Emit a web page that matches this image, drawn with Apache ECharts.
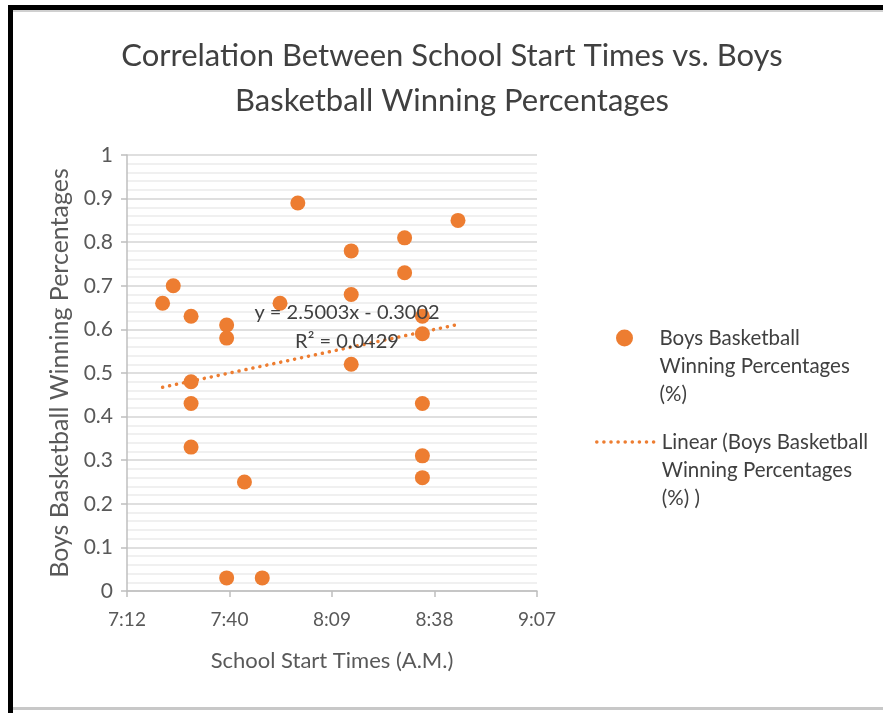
<!DOCTYPE html>
<html>
<head>
<meta charset="utf-8">
<script src="https://cdn.jsdelivr.net/npm/echarts@6/dist/echarts.min.js"></script>
<style>
    html, body { margin: 0; padding: 0; background: #fff; }
    #chart { width: 883px; height: 713px; }
</style>
</head>
<body>
<div id="chart"></div>
<script>
// school start times (A.M.) and winning percentages
var startTimes = ['7:22','7:25','7:30','7:30','7:30','7:30','7:40','7:40','7:40','7:45','7:50','7:55',
                  '8:00','8:15','8:15','8:15','8:30','8:30','8:35','8:35','8:35','8:35','8:35','8:45'];
var winPct = [0.66,0.70,0.63,0.48,0.43,0.33,0.61,0.58,0.03,0.25,0.03,0.66,
              0.89,0.78,0.68,0.52,0.81,0.73,0.63,0.59,0.43,0.31,0.26,0.85];
var xTickLabels = ['7:12','7:40','8:09','8:38','9:07'];
// excel trendline shown on the chart
var slope = 2.5003;
var intercept = -0.3002;
var rSquared = 0.0429;

var seriesName = 'Boys Basketball Winning Percentages (%)';
var trendName = 'Linear (Boys Basketball Winning Percentages (%) )';
// two empty lines first so the icon sits on the first text line
var legendLines = {};
legendLines[seriesName] = '\n\nBoys Basketball\nWinning Percentages\n(%)';
legendLines[trendName] = '\n\nLinear (Boys Basketball\nWinning Percentages\n(%) )';

var orange = '#ED7D31';
var textGray = '#595959';
var font = 'Lato';

// times are kept as fractions of a day, like excel does
function toDay(t){
    var p = t.split(':');
    return (parseInt(p[0]) * 60 + parseInt(p[1])) / 1440;
}
var points = startTimes.map(function(t, i){ return [toDay(t), winPct[i]]; });
var xs = points.map(function(p){ return p[0]; });
var xLo = Math.min.apply(null, xs), xHi = Math.max.apply(null, xs);
var trend = [[xLo, slope * xLo + intercept], [xHi, slope * xHi + intercept]];

var dotted = { color: orange, width: 3.5, type: [0.1, 7], cap: 'round' };
var legendText = { fontFamily: font, fontSize: 20.5, color: '#404040', lineHeight: 28 };

var option = {
    animation: false,
    backgroundColor: '#fff',
    title: {
        text: 'Correlation Between School Start Times vs. Boys\nBasketball Winning Percentages',
        left: 452,
        top: 33,
        padding: 0,
        textAlign: 'center',
        textStyle: { fontFamily: font, fontSize: 31, fontWeight: 'normal', color: '#404040', lineHeight: 45 }
    },
    legend: [
        {
            data: [seriesName], orient: 'vertical', left: 616, top: 268, padding: 0,
            itemWidth: 60, itemHeight: 17, textStyle: legendText,
            formatter: function(n){ return legendLines[n]; }
        },
        {
            data: [trendName], orient: 'vertical', left: 595, top: 372, padding: 0,
            itemWidth: 60, itemHeight: 17, textStyle: legendText,
            itemStyle: { opacity: 0 }, lineStyle: dotted,
            formatter: function(n){ return legendLines[n]; }
        }
    ],
    grid: { left: 127, right: 346, top: 155, bottom: 122 },
    xAxis: {
        type: 'value', min: 0.30, max: 0.38, interval: 0.02,
        name: 'School Start Times (A.M.)', nameLocation: 'middle', nameGap: 59,
        nameTextStyle: { fontFamily: font, fontSize: 22, color: textGray },
        axisLine: { lineStyle: { color: '#bfbfbf', width: 1.5 } },
        axisTick: { show: true, length: 6, lineStyle: { color: '#bfbfbf', width: 1.5 } },
        axisLabel: {
            fontFamily: font, fontSize: 19, color: textGray, margin: 19,
            formatter: function(v){ return xTickLabels[Math.round((v - 0.30) / 0.02)]; }
        },
        splitLine: { show: false }
    },
    yAxis: {
        type: 'value', min: 0, max: 1, interval: 0.1,
        name: 'Boys Basketball Winning Percentages', nameLocation: 'middle', nameGap: 55,
        nameTextStyle: { fontFamily: font, fontSize: 25, color: textGray },
        axisLine: { show: true, lineStyle: { color: '#bfbfbf', width: 1.5 } },
        axisTick: { show: true, length: 6, lineStyle: { color: '#bfbfbf', width: 1.5 } },
        axisLabel: { fontFamily: font, fontSize: 21, color: textGray, margin: 14 },
        splitLine: { lineStyle: { color: '#d4d4d4', width: 1.5 } },
        minorTick: { show: false, splitNumber: 5 },
        minorSplitLine: { show: true, lineStyle: { color: '#ececec', width: 1.5 } }
    },
    series: [
        {
            name: seriesName, type: 'scatter', data: points,
            symbolSize: 15, itemStyle: { color: orange, opacity: 1 }, z: 3
        },
        {
            name: trendName, type: 'line', data: trend,
            showSymbol: false, symbol: 'none', z: 2,
            itemStyle: { color: orange },
            lineStyle: dotted
        }
    ],
    graphic: [
        { type: 'rect', shape: { x: 8, y: 5, width: 875, height: 5 }, style: { fill: '#000' } },
        { type: 'rect', shape: { x: 8, y: 10, width: 875, height: 2 }, style: { fill: '#d0d0d0' } },
        { type: 'rect', shape: { x: 8, y: 5, width: 5, height: 708 }, style: { fill: '#000' } },
        { type: 'rect', shape: { x: 13, y: 707, width: 870, height: 3 }, style: { fill: '#c8c8c8' } },
        { type: 'text', x: 347, y: 313, z: 10, style: {
            text: 'y = ' + slope + 'x - ' + Math.abs(intercept), fontFamily: font, fontSize: 20,
            fill: '#404040', align: 'center', textAlign: 'center', verticalAlign: 'middle' } },
        { type: 'text', x: 347, y: 342, z: 10, style: {
            text: 'R² = ' + rSquared, fontFamily: font, fontSize: 20,
            fill: '#404040', align: 'center', textAlign: 'center', verticalAlign: 'middle' } }
    ]
};

var myChart = echarts.init(document.getElementById('chart'));
myChart.setOption(option);
</script>
</body>
</html>
